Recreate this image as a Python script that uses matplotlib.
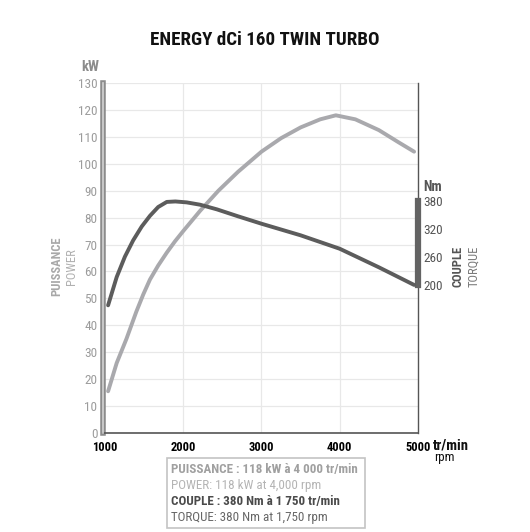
import matplotlib.pyplot as plt

plt.rcParams['font.family'] = ['Roboto Condensed', 'Archivo Narrow', 'PT Sans Narrow',
                               'Liberation Sans Narrow', 'DejaVu Sans']

# power curve (kW)
power_rpm = [1040, 1150, 1275, 1400, 1490, 1575, 1680, 1790, 1895, 2000, 2215, 2450,
             2700, 3000, 3250, 3500, 3750, 3950, 4200, 4500, 4750, 4950]
power_kw = [15.5, 26, 35, 45, 51.5, 57, 62.2, 67, 71.2, 75, 82.5, 90,
            97, 104.5, 109.5, 113.5, 116.5, 118, 116.5, 112.5, 108, 104.5]

# torque curve (Nm)
torque_rpm = [1040, 1150, 1255, 1360, 1470, 1575, 1680, 1790, 1900, 2045, 2215,
              2430, 2700, 3000, 3500, 4000, 4500, 4950]
torque_nm = [156, 217, 261, 296, 326, 349, 368, 379, 380, 378, 373,
             363, 348, 332, 307, 278, 238, 200]

rpm_ticks = [1000, 2000, 3000, 4000, 5000]
kw_ticks = list(range(0, 140, 10))
nm_ticks = [200, 260, 320, 380]

W, H = 530, 532
fig = plt.figure(figsize=(W / 100, H / 100), dpi=100)
ax = fig.add_axes([103 / W, 1 - 433 / H, 315 / W, 350 / H])

def fx(px):
    return px / W

def fy(py):
    return 1 - py / H

ax.set_xlim(975, 5000)
ax.set_ylim(0, 130)
ax.set_xticks(rpm_ticks)
ax.set_yticks(kw_ticks)
ax.grid(True, axis='y', color='#e8e8e8', lw=0.9)
for r in rpm_ticks[1:-1]:
    ax.axvline(r, color='#e8e8e8', lw=0.9, zorder=0)
ax.set_axisbelow(True)

ax.tick_params(axis='y', length=0, pad=4, labelsize=9.5, labelcolor='#9c9c9c')
ax.tick_params(axis='x', length=0, pad=6, labelsize=9)
for lab in ax.get_xticklabels():
    lab.set_fontweight('bold')

ax.spines['top'].set_visible(False)
ax.spines['left'].set_color('#8c8c8c')
ax.spines['left'].set_linewidth(4)
ax.spines['right'].set_color('#555555')
ax.spines['right'].set_linewidth(1)
ax.spines['bottom'].set_color('#555555')
ax.spines['bottom'].set_linewidth(1.2)
ax.axvline(975, color='#d4d4d4', lw=1.2, clip_on=False, zorder=5)

ax.plot(power_rpm, power_kw, color='#a9a9ad', lw=2.8, solid_capstyle='round',
        solid_joinstyle='round', zorder=3)

# torque on its own scale: 200 Nm sits at 55 kW, 380 Nm at 86 kW
ax2 = ax.twinx()
k = 180 / 31
ax2.set_ylim(200 - 55 * k, 200 + 75 * k)
ax2.plot(torque_rpm, torque_nm, color='#5c5c5c', lw=2.8, solid_capstyle='round',
         solid_joinstyle='round', zorder=3)
ax2.set_yticks(nm_ticks)
ax2.tick_params(axis='y', length=0, pad=4, labelsize=9.5, labelcolor='#555555')
for s in ['top', 'left', 'bottom']:
    ax2.spines[s].set_visible(False)
ax2.spines['right'].set_bounds(nm_ticks[0], nm_ticks[-1])
ax2.spines['right'].set_linewidth(4.5)
ax2.spines['right'].set_color('#636363')

fig.text(0.5, fy(40), 'ENERGY dCi 160 TWIN TURBO', ha='center', va='center',
         fontsize=13.7, fontweight='bold', color='#111111')

fig.text(fx(90), fy(67), 'kW', ha='center', va='center', fontsize=10.5,
         fontweight='bold', color='#8c8c8c')
fig.text(fx(57), fy(266), 'PUISSANCE', rotation=90, ha='center', va='center',
         fontsize=9, fontweight='bold', color='#a8a8a8')
fig.text(fx(71), fy(267), 'POWER', rotation=90, ha='center', va='center',
         fontsize=9, color='#b0b0b0')

fig.text(fx(433), fy(187), 'Nm', ha='center', va='center', fontsize=10,
         fontweight='bold', color='#555555')
fig.text(fx(458), fy(266), 'COUPLE', rotation=90, ha='center', va='center',
         fontsize=9, fontweight='bold', color='#555555')
fig.text(fx(474), fy(266), 'TORQUE', rotation=90, ha='center', va='center',
         fontsize=9, color='#7a7a7a')

fig.text(fx(433), fy(445), 'tr/min', ha='left', va='center', fontsize=10.5,
         fontweight='bold', color='#111111')
fig.text(fx(434), fy(457), 'rpm', ha='left', va='center', fontsize=9.5,
         color='#111111')

box = plt.Rectangle((fx(167), fy(528)), fx(365) - fx(167), fy(458) - fy(528),
                    transform=fig.transFigure, fill=False, ec='#c4c4c4', lw=1.2)
fig.patches.append(box)
lines = [
    ('PUISSANCE : 118 kW à 4 000 tr/min', 'bold', '#a0a0a0', 469),
    ('POWER: 118 kW at 4,000 rpm', 'normal', '#b4b4b4', 485),
    ('COUPLE : 380 Nm à 1 750 tr/min', 'bold', '#4a4a4a', 501),
    ('TORQUE: 380 Nm at 1,750 rpm', 'normal', '#666666', 517),
]
for txt, wt, col, py in lines:
    fig.text(fx(171), fy(py), txt, ha='left', va='center', fontsize=9.4,
             fontweight=wt, color=col)

fig.savefig('out.png', dpi=100)
